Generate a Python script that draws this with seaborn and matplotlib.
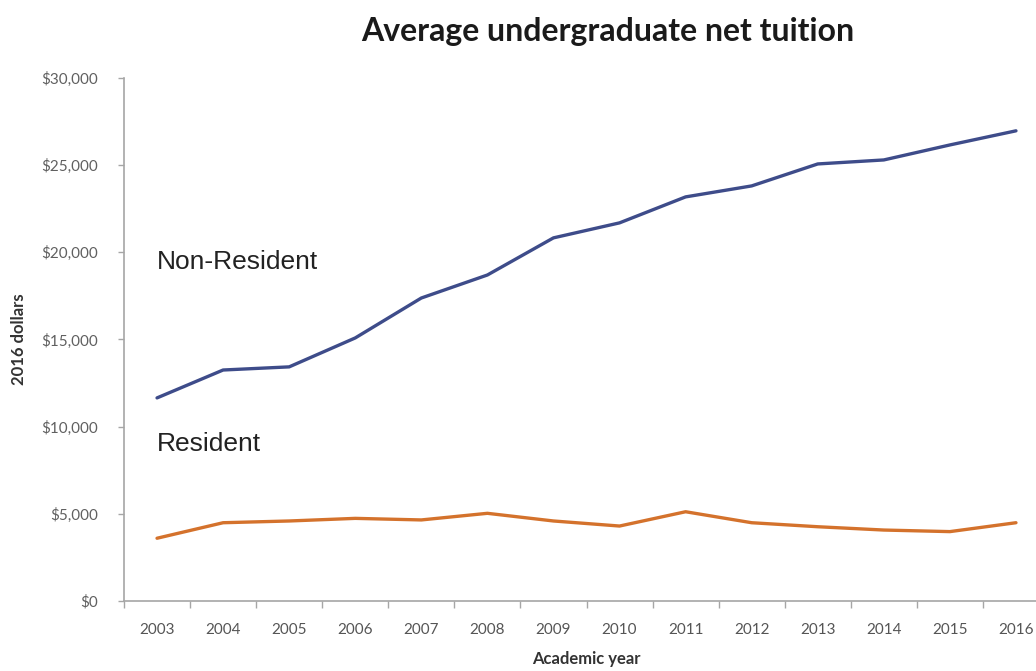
import numpy as np
import pandas as pd
import matplotlib
matplotlib.use("Agg")
import matplotlib.pyplot as plt
import seaborn as sns
from matplotlib.ticker import FuncFormatter, FixedLocator

years = [2003, 2004, 2005, 2006, 2007, 2008, 2009, 2010, 2011, 2012, 2013, 2014, 2015, 2016]
non_resident = [11650, 13250, 13430, 15090, 17380, 18700, 20830, 21690, 23180, 23810, 25070, 25300, 26160, 26970]
resident = [3600, 4490, 4590, 4740, 4650, 5030, 4590, 4300, 5120, 4490, 4260, 4070, 3980, 4490]
series_names = ["Non-Resident", "Resident"]
y_ticks = [0, 5000, 10000, 15000, 20000, 25000, 30000]

df = pd.DataFrame({
    "year": years * 2,
    "value": non_resident + resident,
    "series": [series_names[0]] * len(years) + [series_names[1]] * len(years),
})

sns.set_theme(style="white")
plt.rcParams["font.family"] = ["Lato", "DejaVu Sans"]

fig = plt.figure(figsize=(10.36, 6.71), dpi=100)
ax = fig.add_axes([124 / 1036, 70 / 671, 925 / 1036, 523 / 671])

palette = {"Non-Resident": "#3E4C8A", "Resident": "#D4722C"}
sns.lineplot(data=df, x="year", y="value", hue="series", palette=palette,
             linewidth=2.4, legend=False, ax=ax)

ax.set_xlim(2002.5, 2016.5)
ax.set_ylim(0, 30000)

spine_color = "#A6A6A6"
for s in ["top", "right"]:
    ax.spines[s].set_visible(False)
for s in ["left", "bottom"]:
    ax.spines[s].set_color(spine_color)
    ax.spines[s].set_linewidth(1.2)

ax.yaxis.set_major_locator(FixedLocator(y_ticks))
ax.yaxis.set_major_formatter(FuncFormatter(lambda v, p: f"${int(v):,}"))
ax.tick_params(axis="y", which="major", left=True, length=4, width=1, color=spine_color,
               labelsize=11, labelcolor="#606060", pad=15)

# year labels at category centers, tick marks at boundaries
ax.xaxis.set_major_locator(FixedLocator(years))
ax.set_xticklabels([str(y) for y in years])
ax.xaxis.set_minor_locator(FixedLocator([y + 0.5 for y in [years[0] - 1] + years]))
ax.tick_params(axis="x", which="major", bottom=False, length=0, labelsize=11,
               labelcolor="#555555", pad=16)
ax.tick_params(axis="x", which="minor", bottom=True, length=5, width=1, color=spine_color)

ax.set_xlabel("Academic year", fontsize=12, fontweight="bold", color="#333333", labelpad=10)
ax.set_ylabel("2016 dollars", fontsize=12, fontweight="bold", color="#333333", labelpad=10)

ax.text(2003, 19450, "Non-Resident", fontsize=19, family=["Liberation Sans", "DejaVu Sans"],
        color="#222222", ha="left", va="center")
ax.text(2003, 9000, "Resident", fontsize=19, family=["Liberation Sans", "DejaVu Sans"],
        color="#222222", ha="left", va="center")

fig.text(608 / 1036, 1 - 31 / 671, "Average undergraduate net tuition", fontsize=23,
         fontweight="bold", color="#1A1A1A", ha="center", va="center")

fig.savefig("out.png", dpi=100)
